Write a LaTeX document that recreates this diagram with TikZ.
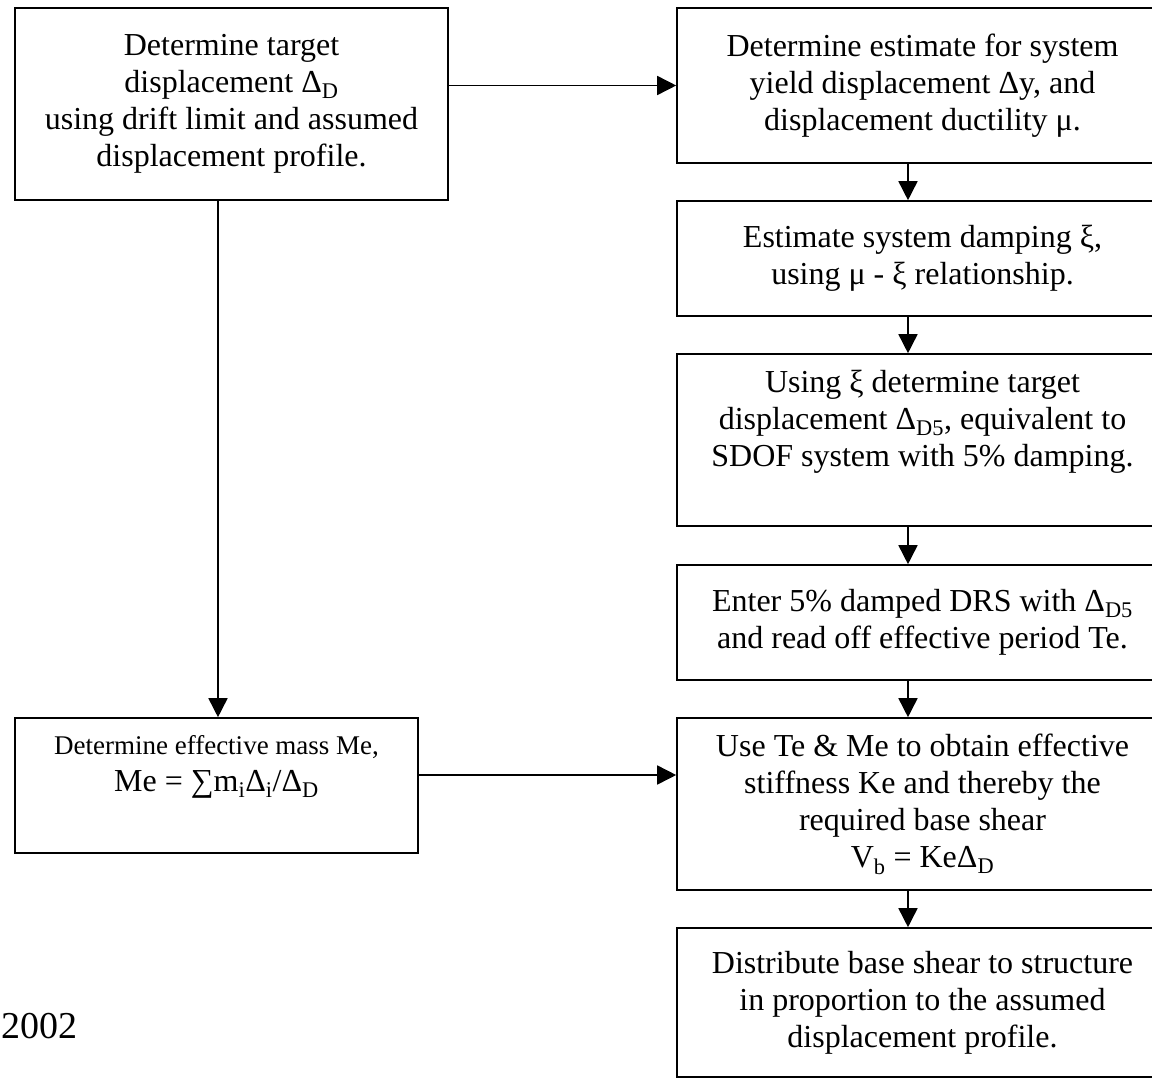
\documentclass[tikz,border=0pt]{standalone}
\usepackage{fontspec}
\setmainfont{Liberation Serif}
\usetikzlibrary{arrows.meta}

\begin{document}
\begin{tikzpicture}[x=1pt,y=-1pt,
    stepbox/.style={draw,line width=1.6pt,rectangle,inner sep=0pt,align=center,
      font=\fontsize{32}{37}\selectfont},
    rbox/.style={stepbox,minimum width=491pt},
    arr/.style={line width=1.6pt,-{Triangle[width=19pt,length=19pt]}}]
  \useasboundingbox (0,0) rectangle (1152,1079);
  \clip (0,0) rectangle (1152,1079);
  % left column
  \node[stepbox,minimum width=433pt,minimum height=192pt] (l1) at (231.5,104)
    {Determine target\\ displacement Δ\textsubscript{D}\\ using drift limit and assumed\\ displacement profile.};
  \node[stepbox,minimum width=403pt,minimum height=135pt] (l2) at (216.5,785.5)
    {{\fontsize{27}{32}\selectfont Determine effective mass Me,}\\ Me = ∑m\textsubscript{i}Δ\textsubscript{i}/Δ\textsubscript{D}\\[8pt]\mbox{}};
  % right column
  \node[rbox,minimum height=155pt] (r1) at (922.5,85.5)
    {Determine estimate for system\\ yield displacement Δy, and\\ displacement ductility μ.};
  \node[rbox,minimum height=115pt] (r2) at (922.5,258.5)
    {Estimate system damping ξ,\\ using μ - ξ relationship.};
  \node[rbox,minimum height=172pt] (r3) at (922.5,440)
    {Using ξ determine target\\ displacement Δ\textsubscript{D5}, equivalent to\\ SDOF system with 5\% damping.\\[6pt]\mbox{}};
  \node[rbox,minimum height=115pt] (r4) at (922.5,622.5)
    {Enter 5\% damped DRS with Δ\textsubscript{D5}\\ and read off effective period Te.};
  \node[rbox,minimum height=172pt] (r5) at (922.5,804)
    {Use Te \& Me to obtain effective\\ stiffness Ke and thereby the\\ required base shear\\ V\textsubscript{b} = KeΔ\textsubscript{D}};
  \node[rbox,minimum height=149pt] (r6) at (922.5,1002.5)
    {Distribute base shear to structure\\ in proportion to the assumed\\ displacement profile.};
  \node[anchor=base west,inner sep=0pt,font=\fontsize{38}{38}\selectfont] (year) at (1,1038) {2002};
  % connectors
  \coordinate (lcol) at (218,0);
  \coordinate (rcol) at (908,0);
  \coordinate (mrow) at (0,775);
  \draw[arr] (l1.east |- r1.west) -- (r1.west);
  \draw[arr] (l1.south -| lcol) -- (l2.north -| lcol);
  \draw[arr] (l2.east |- mrow) -- (r5.west |- mrow);
  \draw[arr] (r1.south -| rcol) -- (r2.north -| rcol);
  \draw[arr] (r2.south -| rcol) -- (r3.north -| rcol);
  \draw[arr] (r3.south -| rcol) -- (r4.north -| rcol);
  \draw[arr] (r4.south -| rcol) -- (r5.north -| rcol);
  \draw[arr] (r5.south -| rcol) -- (r6.north -| rcol);
\end{tikzpicture}
\end{document}
